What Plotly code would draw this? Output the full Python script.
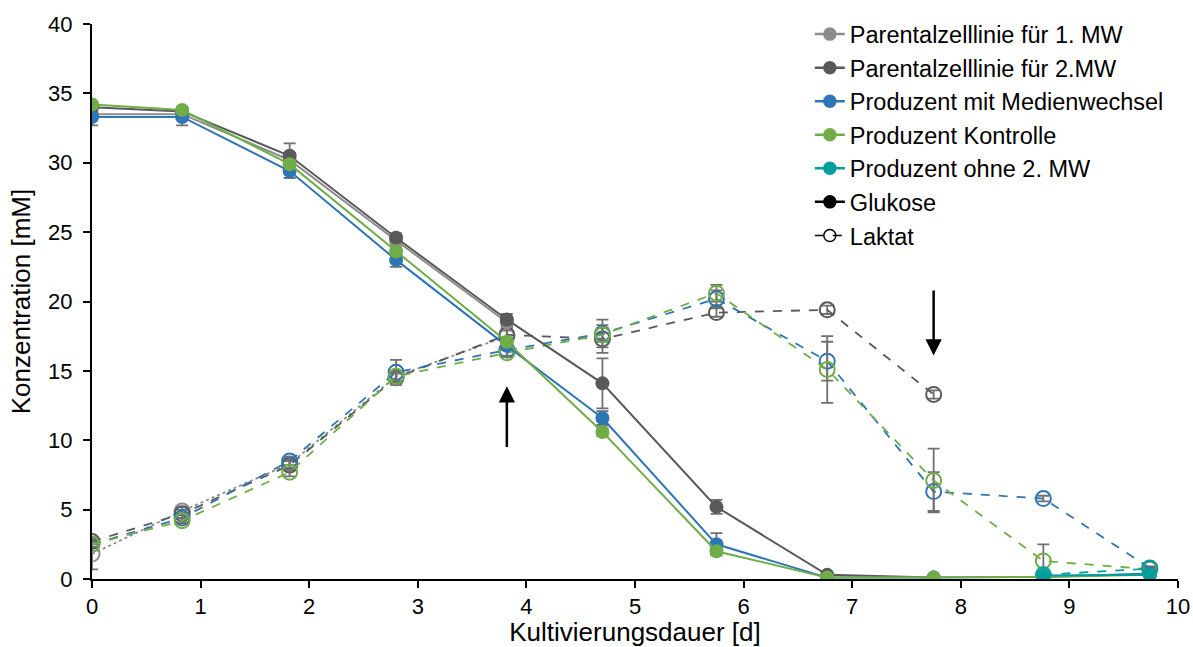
import plotly.graph_objects as go

# time points [d]
days = [0, 0.83, 1.82, 2.8, 3.82, 4.7, 5.75, 6.77, 7.75, 8.76, 9.74]

# Glucose [mM]
glc_p1 = [33.5, 33.5, 30.2, 24.4, 18.5]
glc_p1_err = [0.2, 0.2, 0.5, 0.3, 0.3]
glc_p2 = [34.0, 33.7, 30.5, 24.6, 18.7, 14.1, 5.2, 0.3, 0.1]
glc_p2_err = [0.2, 0.2, 0.9, 0.3, 0.4, 1.8, 0.5, 0.1, 0.1]
glc_med = [33.3, 33.3, 29.4, 23.0, 16.8, 11.6, 2.5, 0.1, 0.1, 0.15, 0.4]
glc_med_err = [0.6, 0.6, 0.5, 0.5, 0.3, 0.5, 0.8, 0.1, 0.1, 0.1, 0.1]
glc_ctl = [34.2, 33.8, 29.9, 23.6, 17.1, 10.6, 2.0, 0.1, 0.1, 0.15, 0.3]
glc_ctl_err = [0.2, 0.2, 0.3, 0.3, 0.3, 0.3, 0.2, 0.1, 0.1, 0.1, 0.1]
glc_oMW = [0.25, 0.3]
days_oMW = [8.76, 9.74]

# Lactate [mM]
lac_p1 = [1.8, 4.9, 8.3, 14.6, 17.5]
lac_p1_err = [1.1, 0.3, 0.3, 0.3, 0.4]
lac_p2 = [2.7, 4.7, 8.2, 14.5, 17.6, 17.3, 19.2, 19.4, 13.3]
lac_p2_err = [0.2, 0.3, 0.3, 0.3, 0.5, 1.0, 0.3, 0.3, 0.3]
lac_med = [2.5, 4.4, 8.5, 14.9, 16.5, 17.7, 20.2, 15.7, 6.3, 5.8, 0.8]
lac_med_err = [0.2, 0.3, 0.3, 0.9, 0.4, 1.0, 0.6, 1.4, 1.4, 0.2, 0.1]
lac_ctl = [2.5, 4.2, 7.7, 14.6, 16.3, 17.6, 20.6, 15.1, 7.1, 1.3, 0.7]
lac_ctl_err = [0.2, 0.2, 0.3, 0.3, 0.3, 0.5, 0.6, 2.4, 2.3, 1.2, 0.1]
lac_oMW = [0.3, 0.75]
days_lac_oMW = [8.76, 9.74]

c_p1 = "#8c8c8c"
c_p2 = "#595959"
c_med = "#2e75b6"
c_ctl = "#70ad47"
c_oMW = "#009e9b"
err_c = "#707070"

fig = go.Figure()


def err(arr):
    return dict(type="data", array=arr, color=err_c, thickness=1.8, width=6)


def add_glc(x, y, e, col):
    fig.add_trace(go.Scatter(
        x=x, y=y, mode="lines+markers", showlegend=False,
        line=dict(color=col, width=2),
        marker=dict(color=col, size=14, symbol="circle"),
        error_y=err(e) if e is not None else None))


def add_lac(x, y, e, col, dash):
    fig.add_trace(go.Scatter(
        x=x, y=y, mode="lines+markers", showlegend=False,
        line=dict(color=col, width=1.8, dash=dash),
        marker=dict(color=col, size=15, symbol="circle-open",
                    line=dict(color=col, width=2)),
        error_y=err(e) if e is not None else None))


n1 = len(glc_p1)
n2 = len(glc_p2)
add_lac(days[:n1], lac_p1, lac_p1_err, c_p1, "dot")
add_lac(days[:n2], lac_p2, lac_p2_err, c_p2, "dash")
add_lac(days, lac_med, lac_med_err, c_med, "dash")
add_lac(days, lac_ctl, lac_ctl_err, c_ctl, "dash")
add_lac(days_lac_oMW, lac_oMW, None, c_oMW, "dash")

add_glc(days[:n1], glc_p1, glc_p1_err, c_p1)
add_glc(days[:n2], glc_p2, glc_p2_err, c_p2)
add_glc(days, glc_med, glc_med_err, c_med)
add_glc(days, glc_ctl, glc_ctl_err, c_ctl)
add_glc(days_oMW, glc_oMW, None, c_oMW)

# legend entries
legend_items = [
    ("Parentalzelllinie für 1. MW", c_p1, "solid", "circle"),
    ("Parentalzelllinie für 2.MW", c_p2, "solid", "circle"),
    ("Produzent mit Medienwechsel", c_med, "solid", "circle"),
    ("Produzent Kontrolle", c_ctl, "solid", "circle"),
    ("Produzent ohne 2. MW", c_oMW, "solid", "circle"),
    ("Glukose", "#000000", "solid", "circle"),
    ("Laktat", "#000000", "dash", "circle-open"),
]
for name, col, dash, sym in legend_items:
    fig.add_trace(go.Scatter(
        x=[None], y=[None], mode="lines+markers", name=name,
        line=dict(color=col, width=2.5 if dash == "solid" else 1.5, dash=dash),
        marker=dict(color=col, size=12, symbol=sym,
                    line=dict(color=col, width=1.5))))

# arrows marking medium changes
fig.add_annotation(x=3.82, y=13.9, ax=3.82, ay=9.4, xref="x", yref="y",
                   axref="x", ayref="y", text="", showarrow=True,
                   arrowhead=2, arrowsize=1.3, arrowwidth=2.5, arrowcolor="#000000")
fig.add_annotation(x=7.75, y=16.1, ax=7.75, ay=20.9, xref="x", yref="y",
                   axref="x", ayref="y", text="", showarrow=True,
                   arrowhead=2, arrowsize=1.3, arrowwidth=2.5, arrowcolor="#000000")

font_family = "Liberation Sans, Arial, sans-serif"
fig.update_layout(
    width=1193, height=647,
    margin=dict(l=92, r=15, t=24, b=68, autoexpand=False),
    paper_bgcolor="white", plot_bgcolor="white",
    font=dict(family=font_family, size=22, color="#000000"),
    showlegend=True,
    legend=dict(x=0.661, y=1.021, xanchor="left", yanchor="top",
                bgcolor="rgba(0,0,0,0)", font=dict(size=23.5)),
    xaxis=dict(range=[0, 10], dtick=1, tick0=0, showgrid=False, zeroline=False,
               showline=True, linecolor="#000000", linewidth=2,
               ticks="outside", ticklen=7, tickwidth=2, tickcolor="#000000",
               tickfont=dict(size=22), automargin=False,
               title=dict(text="Kultivierungsdauer [d]", font=dict(size=26), standoff=2)),
    yaxis=dict(range=[0, 40], dtick=5, tick0=0, showgrid=False, zeroline=False,
               showline=True, linecolor="#000000", linewidth=2,
               ticks="outside", ticklen=7, tickwidth=2, tickcolor="#000000",
               tickfont=dict(size=22), automargin=False, ticklabelstandoff=6,
               title=dict(text="Konzentration [mM]", font=dict(size=26), standoff=10)),
)

fig.write_html("out.html")
